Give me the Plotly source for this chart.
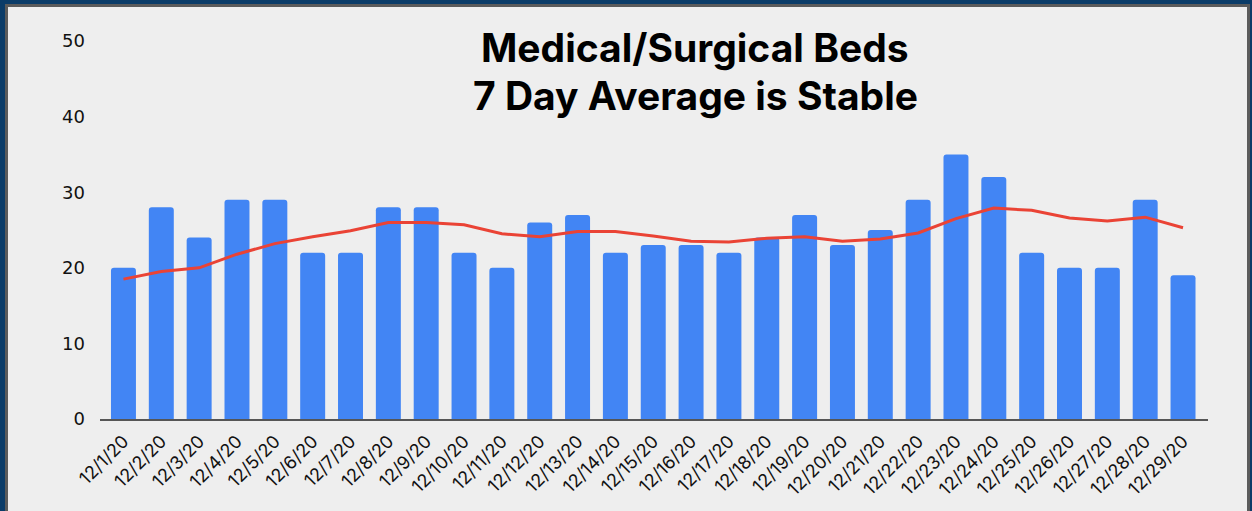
import plotly.graph_objects as go

dates = ["12/1/20", "12/2/20", "12/3/20", "12/4/20", "12/5/20", "12/6/20", "12/7/20",
         "12/8/20", "12/9/20", "12/10/20", "12/11/20", "12/12/20", "12/13/20", "12/14/20",
         "12/15/20", "12/16/20", "12/17/20", "12/18/20", "12/19/20", "12/20/20", "12/21/20",
         "12/22/20", "12/23/20", "12/24/20", "12/25/20", "12/26/20", "12/27/20", "12/28/20",
         "12/29/20"]
beds = [20, 28, 24, 29, 29, 22, 22, 28, 28, 22, 20, 26, 27, 22, 23, 23, 22, 24, 27, 23,
        25, 29, 35, 32, 22, 20, 20, 29, 19]
avg7 = [18.5, 19.5, 20.0, 21.8, 23.2, 24.1, 24.9, 26.0, 26.0, 25.7, 24.5, 24.1, 24.8, 24.8,
        24.2, 23.5, 23.4, 23.9, 24.1, 23.5, 23.8, 24.6, 26.5, 27.9, 27.6, 26.6, 26.2, 26.7, 25.3]
y_ticks = [0, 10, 20, 30, 40, 50]
title_lines = ["Medical/Surgical Beds", "7 Day Average is Stable"]

W, H = 1252, 511
ML, MR, MT, MB = 100, 44, 41, 92
PW, PH = W - ML - MR, H - MT - MB

def px_x(p):
    return (p - ML) / PW

def px_y(p):
    return (H - MB - p) / PH

fig = go.Figure()
fig.add_trace(go.Bar(x=list(range(len(dates))), y=beds, width=0.66,
                     marker=dict(color="#4285f4", cornerradius=3, line=dict(width=0)),
                     hoverinfo="x+y"))
fig.add_trace(go.Scatter(x=list(range(len(dates))), y=avg7, mode="lines",
                         line=dict(color="#ea4335", width=3)))

navy = "#0b3c68"
gray = "#5b5b5b"
shapes = []

def rect(x0, y0, x1, y1, color):
    shapes.append(dict(type="rect", xref="paper", yref="paper",
                       x0=px_x(x0), x1=px_x(x1), y0=px_y(y0), y1=px_y(y1),
                       fillcolor=color, line=dict(width=0), layer="below"))

rect(0, 0, 5, H, navy)
rect(5, 4, 8, H, gray)
rect(0, 0, W, 4, navy)
rect(5, 4, W - 2, 7, gray)
rect(W - 2, 0, W, H, navy)
rect(W - 5, 4, W - 2, H, gray)

annotations = []
for txt, yc in zip(title_lines, [48, 95]):
    annotations.append(dict(text="<b>" + txt + "</b>", xref="paper", yref="paper",
                            x=px_x(695), y=px_y(yc), xanchor="center", yanchor="middle",
                            showarrow=False,
                            font=dict(family="Inter", size=39, color="#000000")))

fig.update_layout(
    width=W, height=H,
    margin=dict(l=ML, r=MR, t=MT, b=MB),
    paper_bgcolor="#eeeeee", plot_bgcolor="#eeeeee",
    showlegend=False,
    shapes=shapes,
    annotations=annotations,
    xaxis=dict(range=[-0.62, 28.66], tickmode="array",
               tickvals=list(range(len(dates))), ticktext=dates,
               tickangle=-45, showgrid=False, zeroline=False,
               showline=True, linecolor="#555555", linewidth=1.5,
               ticks="", ticklabelstandoff=3,
               tickfont=dict(family="Inter", size=18, color="#111111")),
    yaxis=dict(range=[0, 50], tickmode="array", tickvals=y_ticks,
               showgrid=False, zeroline=False, showline=False, ticks="",
               ticklabelstandoff=14,
               tickfont=dict(family="DejaVu Sans", size=18, color="#111111")),
)

fig.write_html("out.html", config={"displayModeBar": False},
               post_script="document.body.style.margin='0';")
